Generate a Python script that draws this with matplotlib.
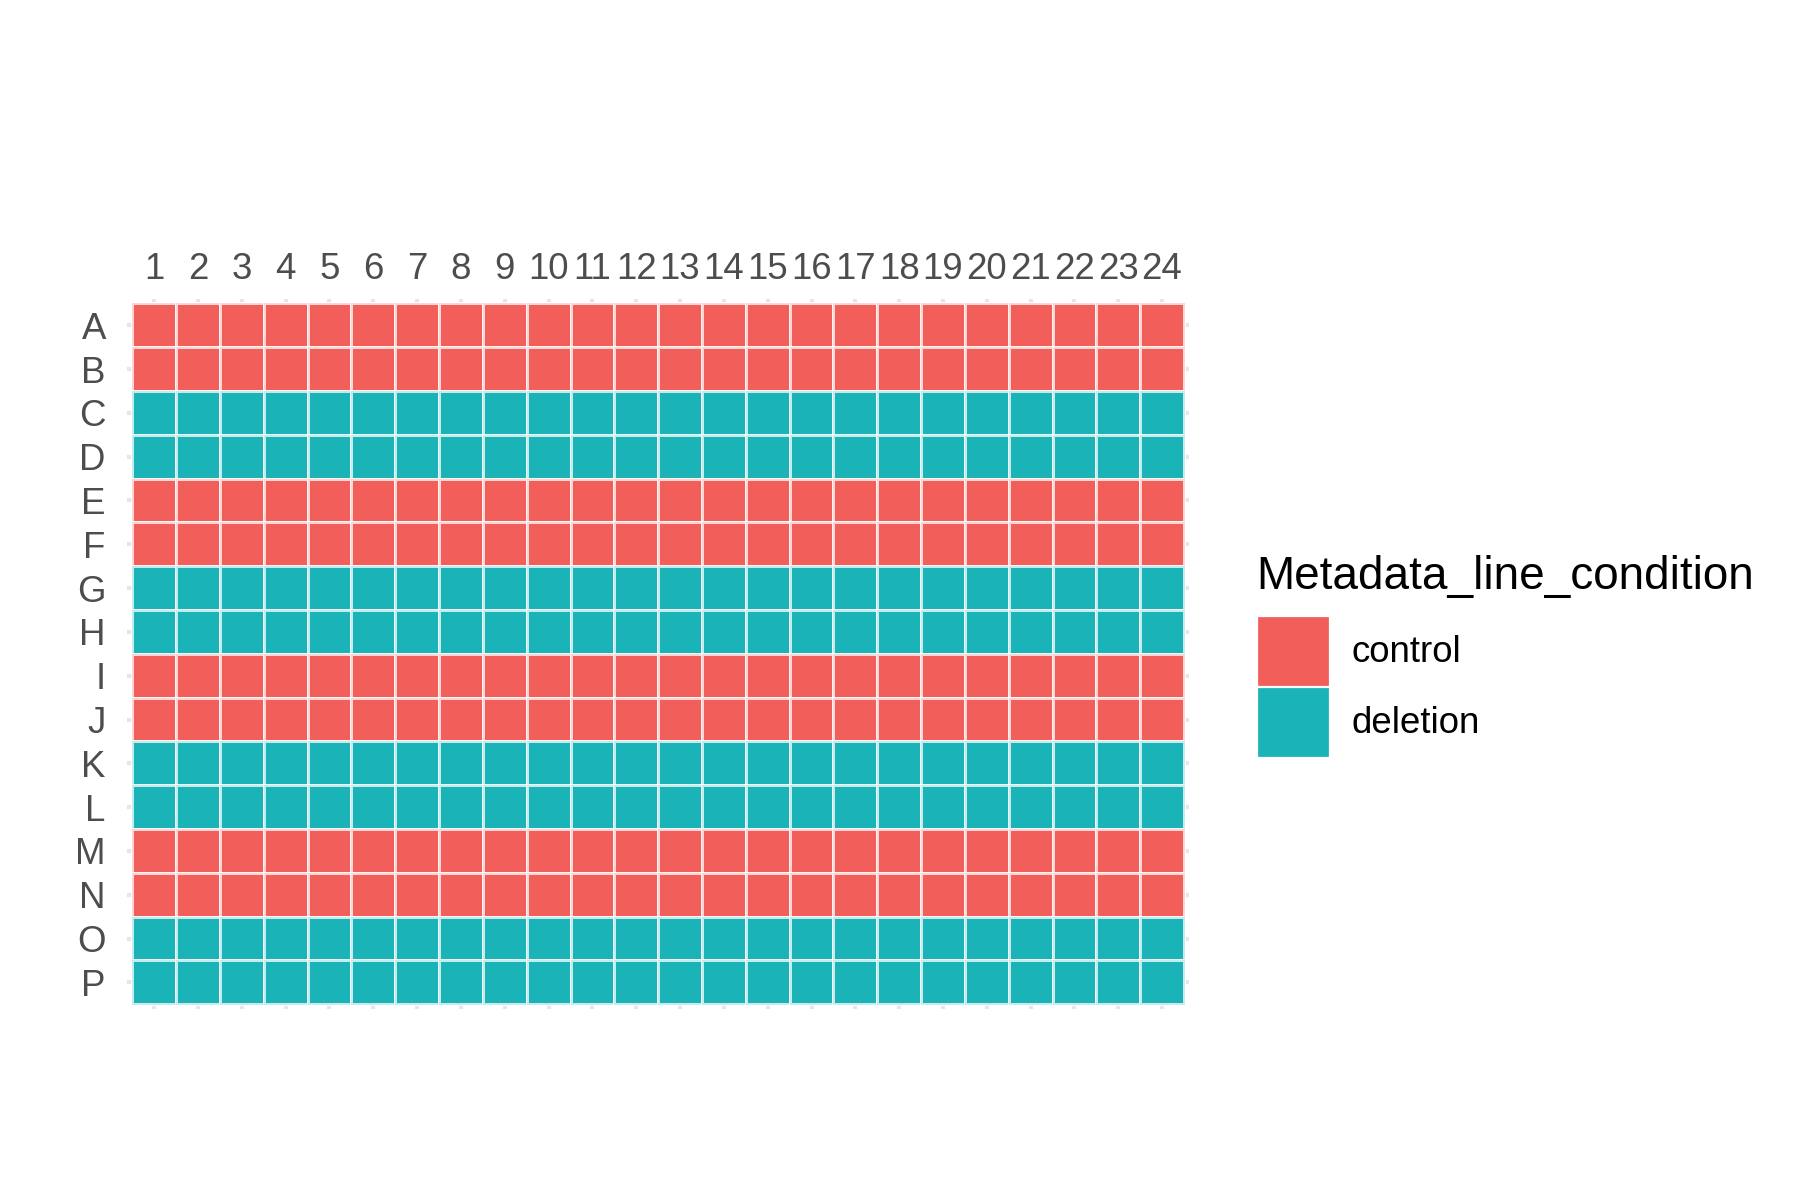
import numpy as np
import matplotlib
matplotlib.use('Agg')
import matplotlib.pyplot as plt
from matplotlib.colors import ListedColormap
from matplotlib.patches import Patch

plt.rcParams['font.family'] = ['Liberation Sans', 'DejaVu Sans']

# --------------------------------------------------------------
# Plate layout data (384-well plate, rows A-P, columns 1-24)
# --------------------------------------------------------------
row_labels = list('ABCDEFGHIJKLMNOP')
col_labels = [str(c) for c in range(1, 25)]
row_condition = ['control', 'control', 'deletion', 'deletion',
                 'control', 'control', 'deletion', 'deletion',
                 'control', 'control', 'deletion', 'deletion',
                 'control', 'control', 'deletion', 'deletion']
conditions = ['control', 'deletion']
condition_colors = ['#F25E5A', '#19B3B8']

# matrix of condition codes, one per well
codes = np.array([[conditions.index(c)] * len(col_labels) for c in row_condition])

# --------------------------------------------------------------
# Figure
# --------------------------------------------------------------
fig = plt.figure(figsize=(6, 4), dpi=300)
ax = fig.add_axes([0.07083, 0.15908, 0.58961, 0.59217])

n_rows, n_cols = codes.shape
x_edges = np.arange(n_cols + 1) - 0.5
y_edges = np.arange(n_rows + 1) - 0.5
ax.pcolormesh(x_edges, y_edges, codes, cmap=ListedColormap(condition_colors),
              vmin=-0.5, vmax=1.5, edgecolors=(1, 1, 1, 0.75), linewidth=0.25,
              zorder=2)

pad = 0.11
ax.set_xlim(-0.5 - pad, n_cols - 0.5 + pad)
ax.set_ylim(n_rows - 0.5 + pad, -0.5 - pad)

ax.set_xticks(np.arange(n_cols))
ax.set_xticklabels(col_labels)
ax.set_yticks(np.arange(n_rows))
ax.set_yticklabels(row_labels)
ax.xaxis.tick_top()
ax.tick_params(axis='x', length=0, pad=2.8, labelsize=8.8, colors='#4D4D4D')
ax.tick_params(axis='y', length=0, pad=5.2, labelsize=8.8, colors='#4D4D4D')
for s in ax.spines.values():
    s.set_visible(False)
ax.set_axisbelow(True)
ax.grid(True, color='#E6E6E6', linewidth=1.0)

# --------------------------------------------------------------
# Legend
# --------------------------------------------------------------
handles = [Patch(facecolor=col, edgecolor='white', linewidth=0.3, label=lab)
           for lab, col in zip(conditions, condition_colors)]
key_left = 1256.7 / 1800
fig.legend(handles=handles, loc='upper left',
           bbox_to_anchor=(key_left, 1 - 616 / 1200), frameon=False,
           fontsize=8.8, handlelength=1.96, handleheight=2.557,
           labelspacing=0.03, handletextpad=0.62, borderpad=0,
           borderaxespad=0)
fig.text(key_left, 1 - 589 / 1200, 'Metadata_line_condition', fontsize=11,
         ha='left', va='baseline')

fig.savefig('out.png', dpi=300, facecolor='white')
